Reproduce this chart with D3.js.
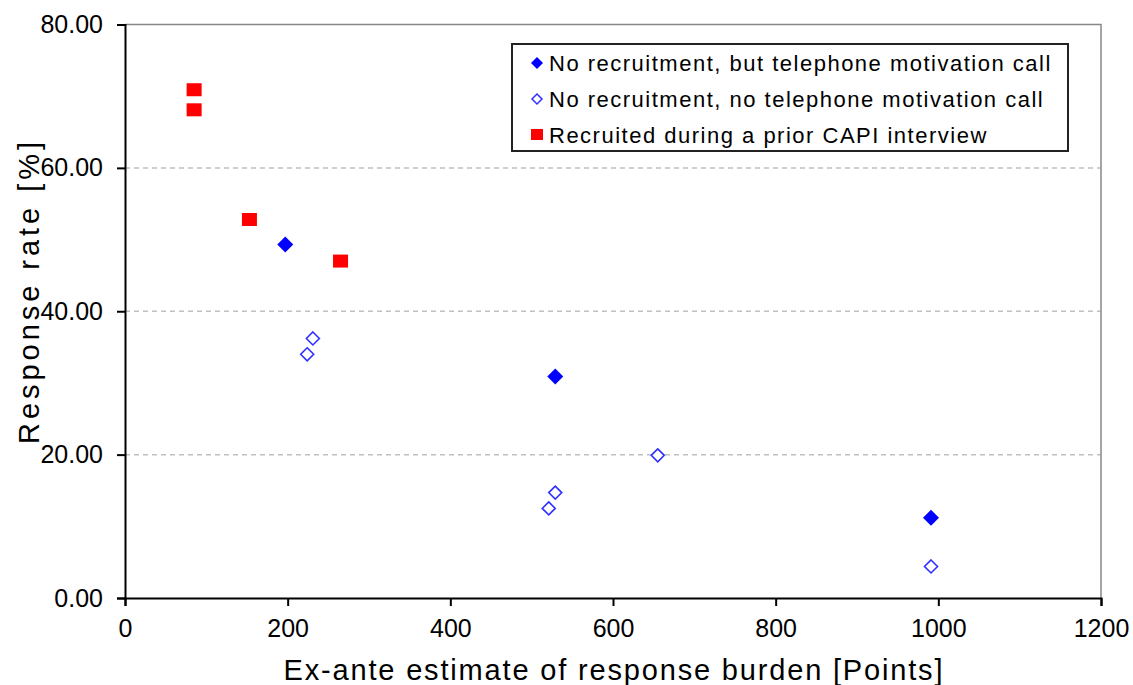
<!DOCTYPE html>
<html>
<head>
<meta charset="utf-8">
<script src="https://cdn.jsdelivr.net/npm/d3@7"></script>
<style>
  body { margin: 0; background: #fff; }
  text { font-family: Arial, "Liberation Sans", sans-serif; fill: #000; }
</style>
</head>
<body>
<svg id="chart" width="1133" height="685"></svg>
<script>
// series: [burden points, response rate %]
var telCall = [[197, 49.3], [529, 30.9], [991, 11.2]]
var noCall = [[231, 36.2], [224, 34.0], [655, 19.9], [529, 14.7], [521, 12.5], [991, 4.4]]
var recruited = [[85, 70.9], [85, 68.1], [153, 52.8], [265, 47.0]]

var xTicks = [0, 200, 400, 600, 800, 1000, 1200]
var yTicks = [0, 20, 40, 60, 80]
var legendLabels = [
  "No recruitment, but telephone motivation call",
  "No recruitment, no telephone motivation call",
  "Recruited during a prior CAPI interview"
]

var svg = d3.select("#chart")
var m = {left: 125, right: 1101, top: 24.5, bottom: 598}

var x = d3.scaleLinear().domain([0, 1200]).range([m.left, m.right])
var y = d3.scaleLinear().domain([0, 80]).range([m.bottom, m.top])

// dashed grid lines
svg.append("g").selectAll("line")
  .data(yTicks.filter(d => d > 0 && d < 80))
  .enter().append("line")
  .attr("x1", m.left).attr("x2", m.right)
  .attr("y1", d => y(d)).attr("y2", d => y(d))
  .attr("stroke", "#c0c0c0").attr("stroke-width", 1.5)
  .attr("stroke-dasharray", "5,4")

// gray frame top / right
svg.append("path")
  .attr("d", "M" + m.left + "," + m.top + "H" + m.right + "V" + m.bottom)
  .attr("fill", "none").attr("stroke", "#888").attr("stroke-width", 1.5)

var xAxis = svg.append("g")
  .attr("transform", "translate(0," + m.bottom + ")")
  .call(d3.axisBottom(x).tickValues(xTicks).tickSize(8).tickPadding(13).tickFormat(d3.format("d")))
var yAxis = svg.append("g")
  .attr("transform", "translate(" + m.left + ",0)")
  .call(d3.axisLeft(y).tickValues(yTicks).tickSize(8).tickPadding(14).tickFormat(d3.format(".2f")))

;[xAxis, yAxis].forEach(g => {
  g.select(".domain").attr("stroke", "#000").attr("stroke-width", 2)
  g.selectAll(".tick line").attr("stroke", "#000").attr("stroke-width", 2)
  g.selectAll(".tick text").attr("font-size", 25).attr("fill", "#222")
    .style("font-family", "Arial, 'Liberation Sans', sans-serif")
})

// axis titles
svg.append("text")
  .attr("x", 613).attr("y", 680)
  .attr("text-anchor", "middle").attr("font-size", 29).attr("fill", "#222")
  .attr("textLength", 659).attr("lengthAdjust", "spacing")
  .text("Ex-ante estimate of response burden [Points]")

svg.append("text")
  .attr("transform", "translate(39,293) rotate(-90)")
  .attr("text-anchor", "middle").attr("font-size", 29).attr("fill", "#222")
  .attr("textLength", 302).attr("lengthAdjust", "spacing")
  .text("Response rate [%]")

// markers
var diamond = s => "M0," + (-s) + "L" + s + ",0L0," + s + "L" + (-s) + ",0Z"

svg.append("g").selectAll("path")
  .data(noCall).enter().append("path")
  .attr("transform", d => "translate(" + x(d[0]) + "," + y(d[1]) + ")")
  .attr("d", diamond(6.5))
  .attr("fill", "#fff").attr("stroke", "#3030ff").attr("stroke-width", 1.6)

svg.append("g").selectAll("path")
  .data(telCall).enter().append("path")
  .attr("transform", d => "translate(" + x(d[0]) + "," + y(d[1]) + ")")
  .attr("d", diamond(8))
  .attr("fill", "#0000ff")

svg.append("g").selectAll("rect")
  .data(recruited).enter().append("rect")
  .attr("x", d => x(d[0]) - 7.5).attr("y", d => y(d[1]) - 6.5)
  .attr("width", 15).attr("height", 13)
  .attr("fill", "#ff0000")

// legend
var lg = svg.append("g")
lg.append("rect")
  .attr("x", 512).attr("y", 44).attr("width", 556).attr("height", 107)
  .attr("fill", "#fff").attr("stroke", "#222").attr("stroke-width", 2)

var rows = lg.selectAll("g.row").data(legendLabels).enter().append("g")
  .attr("class", "row")
  .attr("transform", (d, i) => "translate(537," + (63 + i * 36) + ")")

rows.each(function(d, i) {
  var g = d3.select(this)
  if (i == 0) g.append("path").attr("d", diamond(6)).attr("fill", "#0000ff")
  if (i == 1) g.append("path").attr("d", diamond(5)).attr("fill", "#fff")
    .attr("stroke", "#3030ff").attr("stroke-width", 1.5)
  if (i == 2) g.append("rect").attr("x", -6).attr("y", -6).attr("width", 12).attr("height", 11).attr("fill", "#ff0000")
})
rows.append("text")
  .attr("x", 12).attr("y", 8)
  .attr("font-size", 22).attr("fill", "#111")
  .style("letter-spacing", "1.5px")
  .text(d => d)
</script>
</body>
</html>
